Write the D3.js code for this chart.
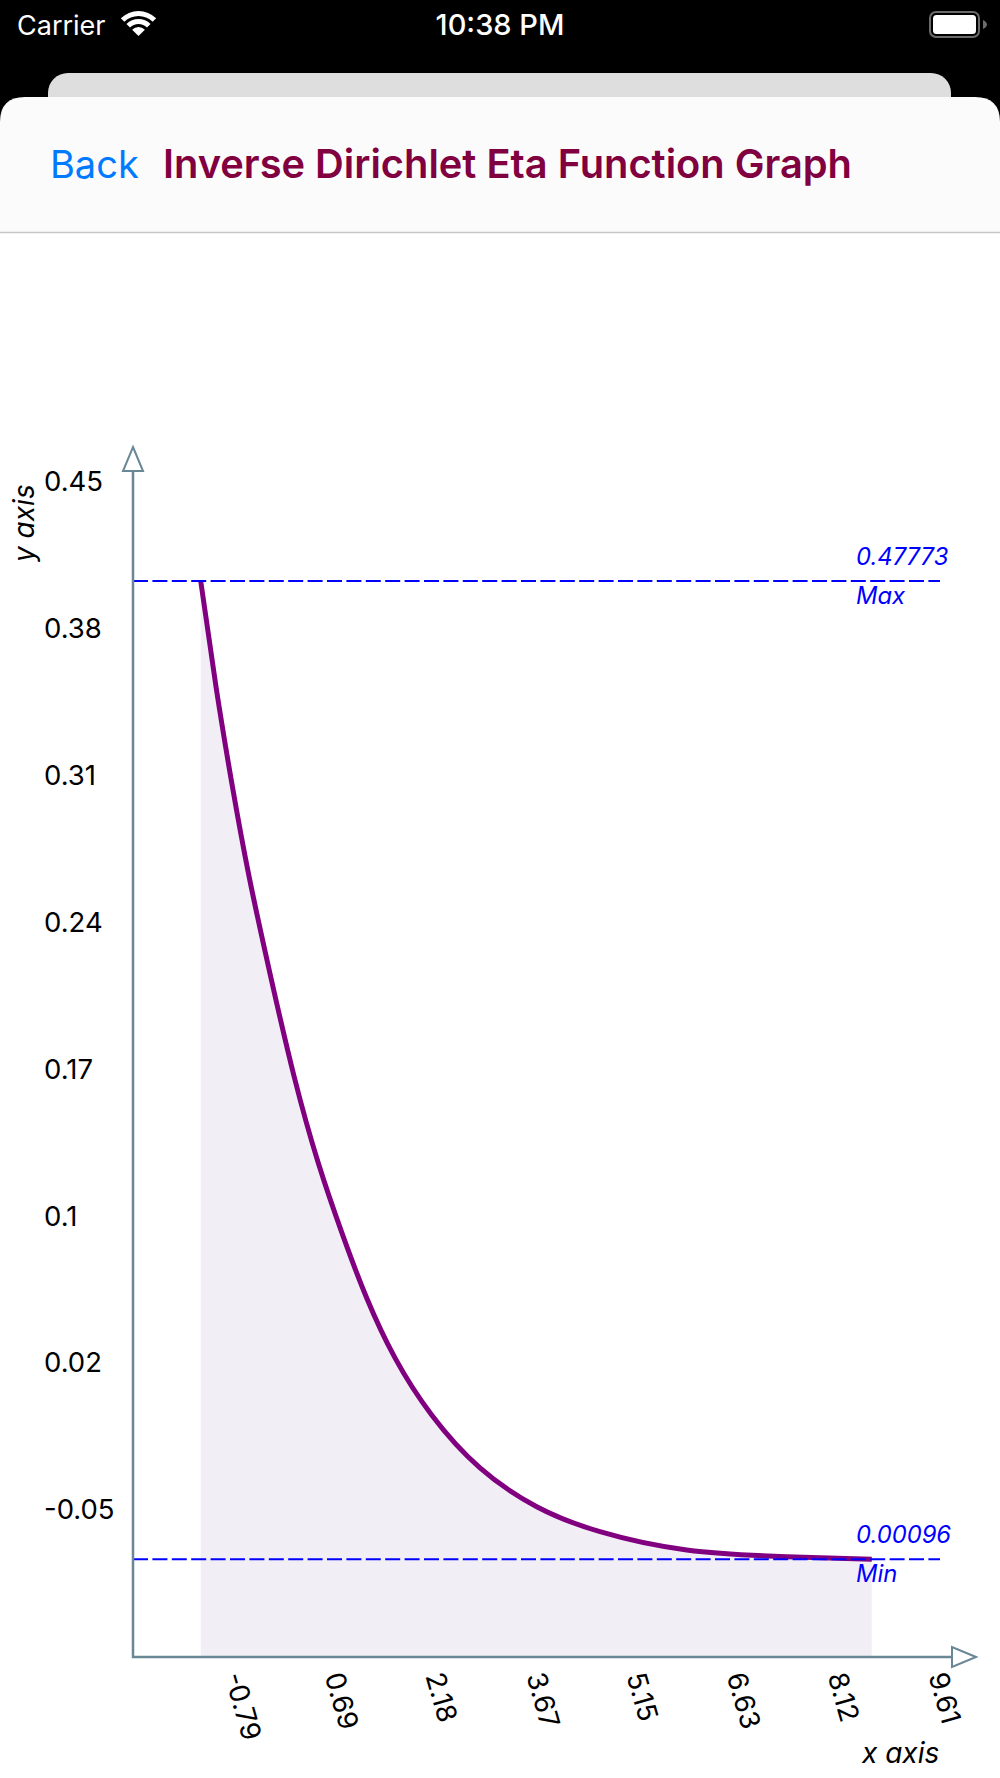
<!DOCTYPE html>
<html>
<head>
<meta charset="utf-8">
<title>Inverse Dirichlet Eta Function Graph</title>
<script src="https://cdnjs.cloudflare.com/ajax/libs/d3/7.8.5/d3.min.js"></script>
<style>
  html, body { margin: 0; padding: 0; background: #fff; }
  svg { display: block; }
  text { font-family: Inter, "Noto Sans", sans-serif; }
</style>
</head>
<body>
<div id="chart"></div>
<script>
// Tick labels as printed on the axes
const xTicks = [-0.79, 0.69, 2.18, 3.67, 5.15, 6.63, 8.12, 9.61]
const yTickLabels = ["0.45", "0.38", "0.31", "0.24", "0.17", "0.1", "0.02", "-0.05"]

// Curve
const curveX = [-1.267, -1.041, -0.809, -0.554, -0.233, 0.111, 0.470, 0.839, 1.185,
  1.603, 2.145, 2.859, 3.697, 4.632, 5.913, 7.390, 8.646]
const curveY = [0.47773, 0.4262, 0.3795, 0.3340, 0.2849, 0.2365, 0.1941, 0.1582, 0.1283,
  0.0991, 0.0713, 0.0455, 0.0266, 0.0144, 0.0055, 0.0022, 0.00096]

const maxValue = 0.47773
const minValue = 0.00096
const title = "Inverse Dirichlet Eta Function Graph"

const width = 1000
const height = 1778
const axisColor = "#6a8796"
const axisX = 133
const axisY = 1657

const svg = d3.select("#chart").append("svg")
  .attr("width", width)
  .attr("height", height)

// Phone header
svg.append("rect").attr("width", width).attr("height", 232).attr("fill", "#000")
svg.append("rect").attr("x", 48).attr("y", 73).attr("width", 903).attr("height", 60).attr("rx", 20).attr("fill", "#dedede")
svg.append("path")
  .attr("d", "M0,232 V122 Q0,97 25,97 H975 Q1000,97 1000,122 V232 Z")
  .attr("fill", "#fbfbfb")
svg.append("line").attr("x1", 0).attr("x2", width).attr("y1", 232.5).attr("y2", 232.5)
  .attr("stroke", "#c6c6c6").attr("stroke-width", 1.5)

svg.append("text").attr("x", 17).attr("y", 35).attr("fill", "#fff")
  .attr("font-size", 27).text("Carrier")
svg.append("text").attr("x", 500).attr("y", 35).attr("fill", "#fff").attr("text-anchor", "middle")
  .attr("font-size", 29).attr("font-weight", 500).text("10:38 PM")

// Wifi icon
const wifi = svg.append("g").attr("transform", "translate(138.5,36)")
const wifiArc = d3.arc().startAngle(-Math.PI / 4).endAngle(Math.PI / 4)
;[[0, 9], [12, 17], [20, 25]].forEach(r => {
  wifi.append("path").attr("fill", "#fff")
    .attr("d", wifiArc({ innerRadius: r[0], outerRadius: r[1] }))
})

// Battery icon
svg.append("rect").attr("x", 930).attr("y", 12).attr("width", 49).attr("height", 25).attr("rx", 6)
  .attr("fill", "none").attr("stroke", "#6b6b6b").attr("stroke-width", 2)
svg.append("rect").attr("x", 933).attr("y", 15).attr("width", 43).attr("height", 19).attr("rx", 3.5).attr("fill", "#fff")
svg.append("path").attr("d", "M983,20 Q987,22 987,24.5 Q987,27 983,29 Z").attr("fill", "#6b6b6b")

svg.append("text").attr("x", 50).attr("y", 178).attr("fill", "#007aff")
  .attr("font-size", 38).text("Back")
svg.append("text").attr("x", 163).attr("y", 178).attr("fill", "#800040")
  .attr("font-size", 39.8).attr("font-weight", 600).text(title)

// Scales
const xScale = d3.scaleLinear().domain([xTicks[0], xTicks[xTicks.length - 1]]).range([233, 937])
const yScale = d3.scaleLinear().domain([minValue, maxValue]).range([1559.3, 581])
const yTickScale = d3.scalePoint().domain(yTickLabels).range([482, 1510])

const points = curveX.map((x, i) => [x, curveY[i]])

// Shaded area under the curve, down to the x axis
const area = d3.area()
  .x(d => xScale(d[0]))
  .y0(axisY)
  .y1(d => yScale(d[1]))
  .curve(d3.curveNatural)
svg.append("path").attr("d", area(points)).attr("fill", "#f1eff5")

// Curve
const line = d3.line()
  .x(d => xScale(d[0]))
  .y(d => yScale(d[1]))
  .curve(d3.curveNatural)
svg.append("path").attr("d", line(points))
  .attr("fill", "none").attr("stroke", "#800080").attr("stroke-width", 5)

// Max and min dashed lines
;[maxValue, minValue].forEach(v => {
  svg.append("line")
    .attr("x1", axisX).attr("x2", 940)
    .attr("y1", yScale(v)).attr("y2", yScale(v))
    .attr("stroke", "#0000ff").attr("stroke-width", 2)
    .attr("stroke-dasharray", "15,4.4")
})

const notes = [
  [maxValue.toFixed(5), yScale(maxValue) - 16],
  ["Max", yScale(maxValue) + 23],
  [minValue.toFixed(5), yScale(minValue) - 16],
  ["Min", yScale(minValue) + 23]
]
svg.selectAll(".note").data(notes).enter().append("text")
  .attr("class", "note")
  .attr("x", 856)
  .attr("y", d => d[1])
  .attr("fill", "#0000ff")
  .attr("font-size", 23.8)
  .attr("font-style", "italic")
  .text(d => d[0])

// Y axis labels, left aligned
const yAxis = d3.axisLeft(yTickScale).tickSize(0)
const yG = svg.append("g").attr("transform", `translate(${axisX},0)`).call(yAxis)
yG.select(".domain").remove()
yG.selectAll("text")
  .attr("x", 44 - axisX)
  .attr("text-anchor", "start")
  .attr("fill", "#000")
  .attr("font-size", 27.5)
  .attr("font-family", "Inter, 'Noto Sans', sans-serif")

// X axis labels, rotated
const xAxis = d3.axisBottom(xScale).tickValues(xTicks).tickFormat(d => d).tickSize(0)
const xG = svg.append("g").attr("transform", `translate(0,${axisY})`).call(xAxis)
xG.select(".domain").remove()
xG.selectAll("text")
  .attr("x", 0)
  .attr("y", 0)
  .attr("dy", "0.35em")
  .attr("text-anchor", "start")
  .attr("transform", "translate(0,16) rotate(74)")
  .attr("fill", "#000")
  .attr("font-size", 27.5)
  .attr("font-family", "Inter, 'Noto Sans', sans-serif")

// Axis lines with hollow arrow heads
svg.append("path")
  .attr("d", `M${axisX},471 V${axisY} H952`)
  .attr("fill", "none").attr("stroke", axisColor).attr("stroke-width", 2.5)
svg.append("path").attr("d", "M133,447 L143,471 H123 Z")
  .attr("fill", "#fff").attr("stroke", axisColor).attr("stroke-width", 2)
svg.append("path").attr("d", "M976,1657 L952,1647 V1667 Z")
  .attr("fill", "#fff").attr("stroke", axisColor).attr("stroke-width", 2)

// Axis names
svg.append("text").attr("x", 862).attr("y", 1763)
  .attr("font-size", 28).attr("font-style", "italic").attr("fill", "#000").text("x axis")
svg.append("text").attr("transform", "translate(34,562) rotate(-90)")
  .attr("font-size", 28).attr("font-style", "italic").attr("fill", "#000").text("y axis")
</script>
</body>
</html>
